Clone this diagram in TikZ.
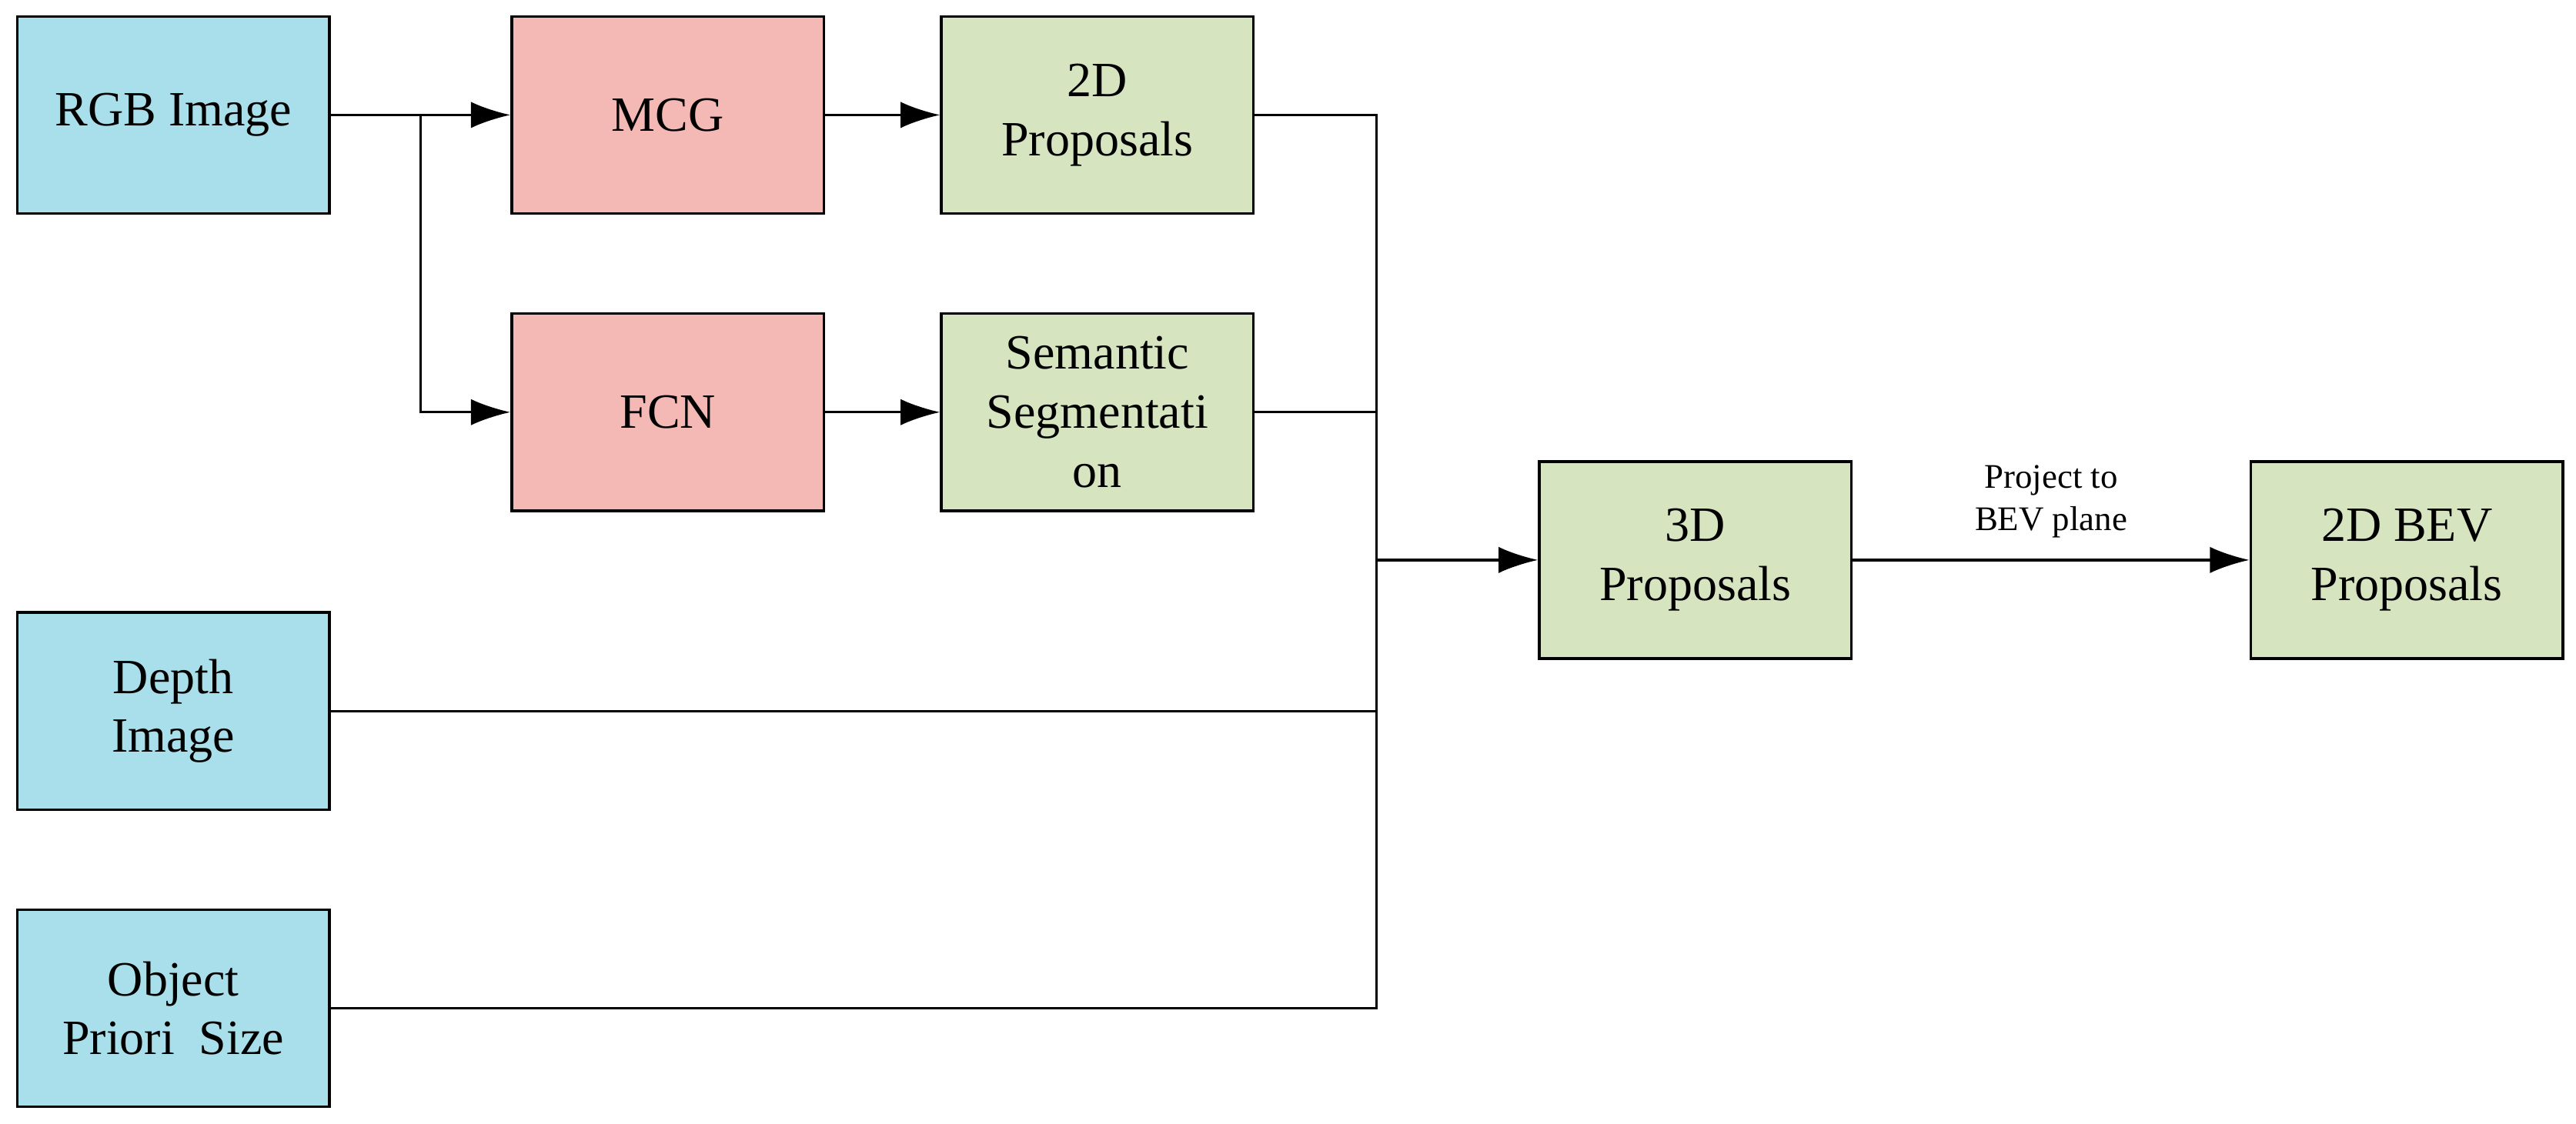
\documentclass[tikz,border=0pt]{standalone}
\usepackage{fontspec}
\setmainfont{Liberation Serif}
\usetikzlibrary{arrows.meta}
\definecolor{cb}{HTML}{A8DFEA}
\definecolor{cr}{HTML}{F4B9B5}
\definecolor{cg}{HTML}{D6E4C0}
\begin{document}
\begin{tikzpicture}[x=0.5pt,y=-0.5pt,
 box/.style={draw,line width=0.8pt,minimum width=95pt,minimum height=60pt,align=center,inner sep=1pt,font=\fontsize{15}{18}\selectfont},
 arr/.style={line width=0.8pt,-{Latex[length=12pt,width=8pt]}},
 ln/.style={line width=0.8pt}]
\useasboundingbox (0,0) rectangle (1568,684);
\node[box,fill=cb] (rgb) at (105.5,70) {RGB Image};
\node[box,fill=cr] (mcg) at (406.5,70) {MCG};
\node[box,fill=cg] (p2d) at (668,70) {2D\\Proposals};
\node[box,fill=cr] (fcn) at (406.5,251) {FCN};
\node[box,fill=cg] (sem) at (668,251) {Semantic\\Segmentati\\on};
\node[box,fill=cb] (dep) at (105.5,433) {Depth\\Image};
\node[box,fill=cb] (obj) at (105.5,614) {Object\\Priori\ \ Size};
\node[box,fill=cg] (p3d) at (1032,341) {3D\\Proposals};
\node[box,fill=cg] (bev) at (1465,341) {2D BEV\\Proposals};
\coordinate (br) at (256,70);
\coordinate (bt) at (838,70);
\coordinate (bb) at (838,614);
\coordinate (bm) at (838,341);
\draw[arr] (rgb) -- (mcg);
\draw[arr] (br) |- (fcn);
\draw[arr] (mcg) -- (p2d);
\draw[arr] (fcn) -- (sem);
\draw[ln] (p2d.east) -- (bt) -- (bb) -- (obj.east);
\draw[ln] (sem.east) -- (sem.east -| bt);
\draw[ln] (dep.east) -- (dep.east -| bt);
\draw[arr] (bm) -- (p3d);
\draw[arr] (p3d) -- node[above,align=center,font=\fontsize{10.5}{13}\selectfont,yshift=3pt]{Project to\\BEV plane} (bev);
\end{tikzpicture}
\end{document}
